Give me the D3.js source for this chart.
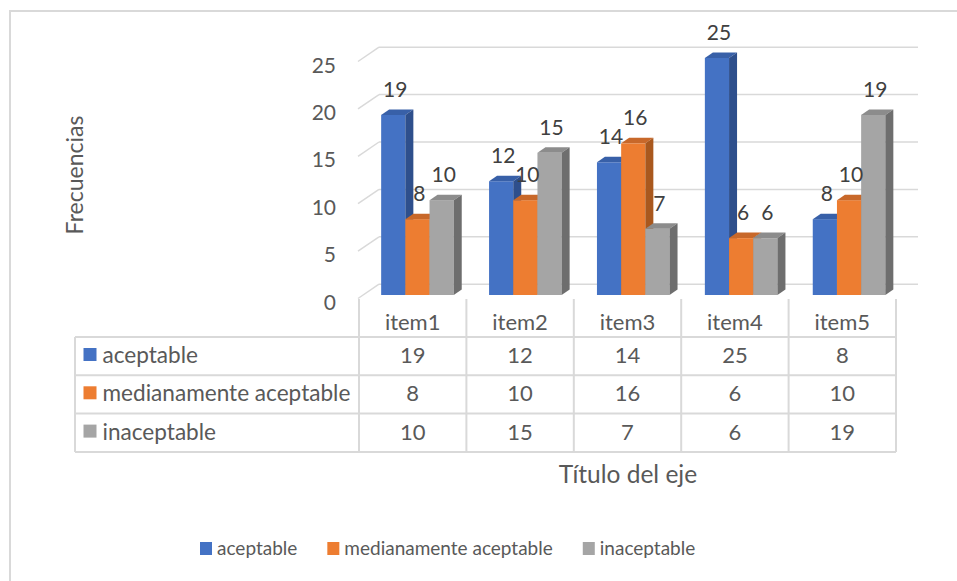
<!DOCTYPE html>
<html>
<head>
<meta charset="utf-8">
<script src="https://cdn.jsdelivr.net/npm/d3@7"></script>
<style>
  html, body { margin: 0; padding: 0; background: #fff; }
  svg { display: block; }
  text { font-family: Lato, "Liberation Sans", sans-serif; fill: #595959; }
</style>
</head>
<body>
<svg id="chart" width="957" height="581"></svg>
<script>
// ---- data ----
const categories = ["item1", "item2", "item3", "item4", "item5"];
const seriesNames = ["aceptable", "medianamente aceptable", "inaceptable"];
const aceptable = [19, 12, 14, 25, 8];
const medianamenteAceptable = [8, 10, 16, 6, 10];
const inaceptable = [10, 15, 7, 6, 19];
const yTicks = [0, 5, 10, 15, 20, 25];
const yTitle = "Frecuencias";
const xTitle = "Título del eje";

const seriesValues = [aceptable, medianamenteAceptable, inaceptable];
const frontColors = ["#4472C4", "#ED7D31", "#A5A5A5"];
const topColors = ["#3860A8", "#C8682A", "#8C8C8C"];
const sideColors = ["#2E4F8C", "#A9581E", "#6E6E6E"];

const svg = d3.select("#chart");

// frame
svg.append("rect").attr("x", 10).attr("y", 11).attr("width", 980).attr("height", 620)
  .attr("fill", "#fff").attr("stroke", "#d9d9d9").attr("stroke-width", 2);

// ---- scales ----
const y = d3.scaleLinear().domain([0, 25]).range([295, 58]);
const yFront = v => y(v) + 3.5;
const yBack = v => y(v) - 10.8;
const wallFrontX = 358, wallBackX = 379, gridRight = 918;

const xBar = d3.scaleBand().domain(categories).range([363.5, 903]).paddingInner(0).paddingOuter(0);
const xSeries = d3.scaleBand().domain(seriesNames).range([0, xBar.bandwidth()])
  .paddingInner(0).paddingOuter(0.73);
const xCol = d3.scaleBand().domain(categories).range([359, 896]);

const ddx = 8, ddy = -5.5;
const gridColor = "#d9d9d9";

// ---- walls / gridlines ----
const g = svg.append("g");
yTicks.forEach(t => {
  g.append("line").attr("x1", wallFrontX).attr("y1", yFront(t))
    .attr("x2", wallBackX).attr("y2", yBack(t))
    .attr("stroke", gridColor).attr("stroke-width", 1.5);
  g.append("line").attr("x1", wallBackX).attr("y1", yBack(t))
    .attr("x2", gridRight).attr("y2", yBack(t))
    .attr("stroke", gridColor).attr("stroke-width", 1.5);
  g.append("text").attr("x", 336).attr("y", yFront(t) + 2.5)
    .attr("text-anchor", "end").attr("dominant-baseline", "central")
    .attr("font-size", 21).text(t);
});

// ---- bars ----
const bars = svg.append("g");
categories.forEach((c, ci) => {
  seriesNames.forEach((s, si) => {
    const v = seriesValues[si][ci];
    const x0 = xBar(c) + xSeries(s);
    const x1 = x0 + xSeries.bandwidth();
    const yt = y(v), yb = y(0);
    bars.append("rect").attr("x", x0).attr("y", yt).attr("width", x1 - x0).attr("height", yb - yt)
      .attr("fill", frontColors[si]);
    bars.append("polygon")
      .attr("points", [[x0, yt], [x0 + ddx, yt + ddy], [x1 + ddx, yt + ddy], [x1, yt]].join(" "))
      .attr("fill", topColors[si]);
    bars.append("polygon")
      .attr("points", [[x1, yt], [x1 + ddx, yt + ddy], [x1 + ddx, yb + ddy], [x1, yb]].join(" "))
      .attr("fill", sideColors[si]);
  });
});
// data labels
categories.forEach((c, ci) => {
  seriesNames.forEach((s, si) => {
    const v = seriesValues[si][ci];
    const cx = xBar(c) + xSeries(s) + xSeries.bandwidth() / 2 + 2;
    svg.append("text").attr("x", cx).attr("y", y(v) - 18)
      .attr("text-anchor", "middle").attr("font-size", 21).style("fill", "#404040").text(v);
  });
});

// ---- data table ----
const tableLeft = 75, headerTop = 299, rowTop0 = 337, rowH = 38.3;
const tableBottom = rowTop0 + rowH * 3;
const tg = svg.append("g");
for (let r = 0; r <= 3; r++) {
  const yy = rowTop0 + r * rowH;
  tg.append("line").attr("x1", tableLeft).attr("x2", xCol.range()[1]).attr("y1", yy).attr("y2", yy)
    .attr("stroke", gridColor).attr("stroke-width", 2);
}
tg.append("line").attr("x1", tableLeft).attr("x2", tableLeft).attr("y1", rowTop0).attr("y2", tableBottom)
  .attr("stroke", gridColor).attr("stroke-width", 2);
categories.concat(["end"]).forEach((c, i) => {
  const xx = i < categories.length ? xCol(c) : xCol.range()[1];
  tg.append("line").attr("x1", xx).attr("x2", xx).attr("y1", headerTop).attr("y2", tableBottom)
    .attr("stroke", gridColor).attr("stroke-width", 2);
});
categories.forEach(c => {
  tg.append("text").attr("x", xCol(c) + xCol.bandwidth() / 2).attr("y", 330)
    .attr("text-anchor", "middle").attr("font-size", 22).text(c);
});
seriesNames.forEach((s, si) => {
  const rt = rowTop0 + si * rowH;
  tg.append("rect").attr("x", 83.5).attr("y", rt + 11).attr("width", 13).attr("height", 13)
    .attr("fill", frontColors[si]);
  tg.append("text").attr("x", 102.5).attr("y", rt + 26).attr("font-size", 22.6).text(s);
  categories.forEach((c, ci) => {
    tg.append("text").attr("x", xCol(c) + xCol.bandwidth() / 2).attr("y", rt + 26)
      .attr("text-anchor", "middle").attr("font-size", 22).text(seriesValues[si][ci]);
  });
});

// ---- axis titles ----
svg.append("text").attr("x", 628).attr("y", 483).attr("text-anchor", "middle")
  .attr("font-size", 24.5).text(xTitle);
svg.append("text").attr("transform", "translate(83,175) rotate(-90)")
  .attr("text-anchor", "middle").attr("font-size", 23).text(yTitle);

// ---- legend ----
const lg = svg.append("g");
let lx = 200;
seriesNames.forEach((s, si) => {
  lg.append("rect").attr("x", lx).attr("y", 542).attr("width", 12).attr("height", 13)
    .attr("fill", frontColors[si]);
  const t = lg.append("text").attr("x", lx + 17).attr("y", 555).attr("font-size", 19).text(s);
  lx += 17 + t.node().getComputedTextLength() + 30;
});
</script>
</body>
</html>
